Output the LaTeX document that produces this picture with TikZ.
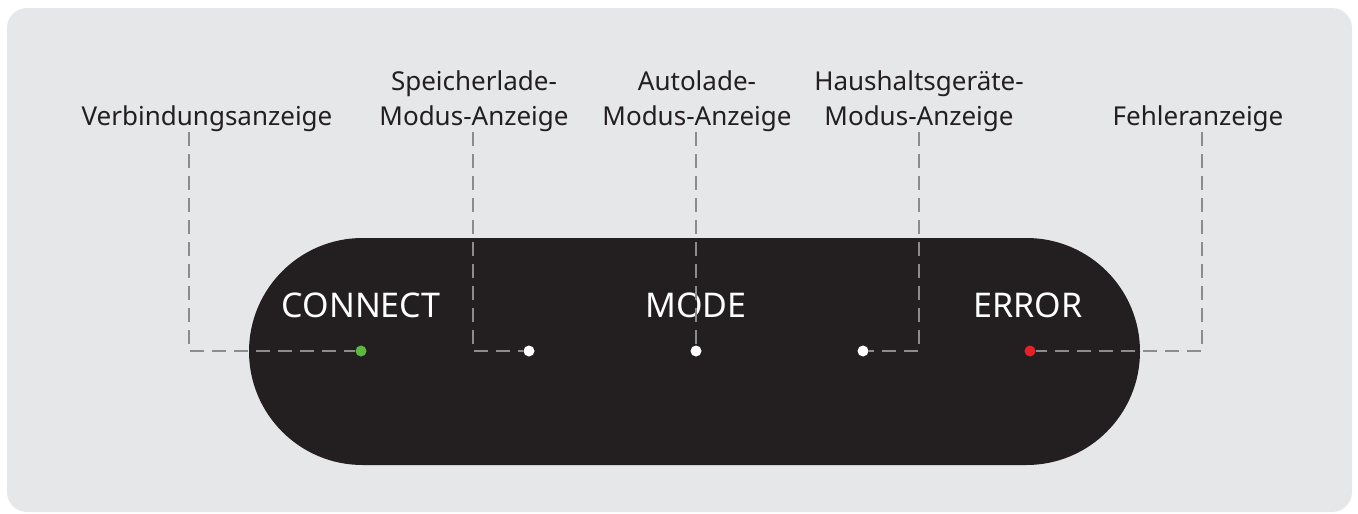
\documentclass[tikz,border=0pt]{standalone}
\usepackage{fontspec}
\setmainfont{Noto Sans}
\definecolor{panel}{HTML}{E6E7E9}
\definecolor{pill}{HTML}{231F20}
\definecolor{leadgray}{HTML}{8C8C8C}
\definecolor{ledgreen}{HTML}{5BB941}
\definecolor{ledred}{HTML}{E8202A}

\begin{document}
\begin{tikzpicture}[x=1pt,y=-1pt,
  led/.style={circle,inner sep=0pt,minimum size=11pt},
  lbl/.style={anchor=south,align=center,inner sep=0pt,text=pill,font=\fontsize{26}{35}\selectfont},
  word/.style={anchor=base,inner sep=0pt,text=white,font=\fontsize{34}{40}\selectfont},
  leader/.style={draw=leadgray,line width=1.3pt,dash pattern=on 14pt off 8pt}]
  \useasboundingbox (0,0) rectangle (1358,514);
  \fill[panel,rounded corners=20] (7,8) rectangle (1352,512);
  \fill[pill,rounded corners=113.5] (249,238) rectangle (1140,465);

  \node[word] (wconn) at (361,317) {CONNECT};
  \node[word] (wmode) at (696,317) {MODE};
  \node[word] (werr) at (1028,317) {ERROR};

  \node[led,fill=ledgreen] (ledconn) at (361,351) {};
  \node[led,fill=white] (ledspei) at (529,351) {};
  \node[led,fill=white] (ledauto) at (696,351) {};
  \node[led,fill=white] (ledhaus) at (863,351) {};
  \node[led,fill=ledred] (lederr) at (1030,351) {};

  \node[lbl] (lblverb) at (207,132) {Verbindungsanzeige};
  \node[lbl] (lblspei) at (474,132) {Speicherlade-\\Modus-Anzeige};
  \node[lbl] (lblauto) at (697,132) {Autolade-\\Modus-Anzeige};
  \node[lbl] (lblhaus) at (919,132) {Haushaltsgeräte-\\Modus-Anzeige};
  \node[lbl] (lblfehl) at (1198,132) {Fehleranzeige};

  \draw[leader] ([xshift=-18pt]lblverb.south) |- (ledconn);
  \draw[leader] ([xshift=-1pt]lblspei.south) |- (ledspei);
  \draw[leader] ([xshift=-1pt]lblauto.south) -- (ledauto);
  \draw[leader] (lblhaus.south) |- (ledhaus);
  \draw[leader] ([xshift=4pt]lblfehl.south) |- (lederr);
\end{tikzpicture}
\end{document}
